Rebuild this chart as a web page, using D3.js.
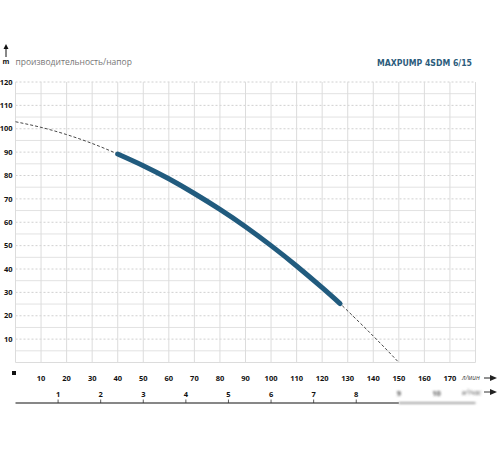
<!DOCTYPE html>
<html>
<head>
<meta charset="utf-8">
<script src="https://cdn.jsdelivr.net/npm/d3@7"></script>
<style>
  body { margin: 0; background: #fff; }
  svg { display: block; font-family: "Open Sans", "DejaVu Sans", sans-serif; }
</style>
</head>
<body>
<svg id="chart"></svg>
<script>
// pump curve: flow (l/min) and head (m)
const flow = [0, 10, 20, 30, 40, 50, 60, 70, 80, 90, 100, 110, 120, 127, 140, 150];
const head = [103, 100.6, 97.5, 93.7, 89.2, 84.2, 78.6, 72.3, 65.5, 58.1, 50, 41.3, 32, 25.2, 11.3, 0];
// working range drawn as the thick line
const workRange = [40, 127];

const flowTicks = [10, 20, 30, 40, 50, 60, 70, 80, 90, 100, 110, 120, 130, 140, 150, 160, 170];
const headTicks = [10, 20, 30, 40, 50, 60, 70, 80, 90, 100, 110, 120];
const cubicTicks = [1, 2, 3, 4, 5, 6, 7, 8, 9, 10];

const title = 'MAXPUMP 4SDM 6/15';
const yTitle = 'производительность/напор';

const width = 500;
const height = 450;
const marginTop = 82;
const marginLeft = 15.5;
const plotRight = 475.5;
const plotBottom = 362.5;

const svg = d3.select('#chart')
  .attr('width', width)
  .attr('height', height)
  .attr('viewBox', [0, 0, width, height]);

const defs = svg.append('defs');
defs.append('filter').attr('id', 'blur')
  .attr('x', '-20%').attr('y', '-50%').attr('width', '140%').attr('height', '200%')
  .append('feGaussianBlur').attr('stdDeviation', 1);

const x = d3.scaleLinear().domain([0, 180]).range([marginLeft, plotRight]);
const y = d3.scaleLinear().domain([0, 120]).range([plotBottom, marginTop]);
// second flow scale in m3/h on the same pixels
const xc = d3.scaleLinear().domain([0, 180 * 60 / 1000]).range([marginLeft, plotRight]);

// grid: light solid lines at half steps, dashed at labelled values
const grid = svg.append('g');
grid.selectAll('.hminor')
  .data(d3.range(5, 120, 10))
  .join('line')
  .attr('x1', x(0)).attr('x2', x(180))
  .attr('y1', d => y(d)).attr('y2', d => y(d))
  .attr('stroke', '#e2e2e2').attr('stroke-width', 1);
grid.selectAll('.hmajor')
  .data(headTicks)
  .join('line')
  .attr('x1', x(0)).attr('x2', x(180))
  .attr('y1', d => y(d)).attr('y2', d => y(d))
  .attr('stroke', '#c4c4c4').attr('stroke-width', 0.8)
  .attr('stroke-dasharray', '2,2');
grid.selectAll('.v')
  .data(flowTicks.concat([0, 180]))
  .join('line')
  .attr('x1', d => x(d)).attr('x2', d => x(d))
  .attr('y1', y(0)).attr('y2', y(120))
  .attr('stroke', '#dcdcdc').attr('stroke-width', 1);
grid.append('line')
  .attr('x1', x(0)).attr('x2', x(180))
  .attr('y1', y(0)).attr('y2', y(0))
  .attr('stroke', '#dcdcdc');

// y tick labels
svg.append('g')
  .selectAll('text')
  .data(headTicks)
  .join('text')
  .attr('x', 12.5)
  .attr('y', d => y(d))
  .attr('dy', '0.35em')
  .attr('text-anchor', 'end')
  .attr('font-size', 7.5)
  .attr('font-weight', 'bold')
  .attr('fill', '#111')
  .text(d => d);

// x tick labels (l/min)
svg.append('g')
  .selectAll('text')
  .data(flowTicks)
  .join('text')
  .attr('x', d => x(d))
  .attr('y', 378)
  .attr('dy', '0.35em')
  .attr('text-anchor', 'middle')
  .attr('font-size', 7.5)
  .attr('font-weight', 'bold')
  .attr('fill', '#111')
  .text(d => d);

svg.append('rect')
  .attr('x', 12).attr('y', 371)
  .attr('width', 4).attr('height', 4)
  .attr('fill', '#111');

// unit label with arrow, l/min
svg.append('text')
  .attr('x', 462).attr('y', 378).attr('dy', '0.35em')
  .attr('font-size', 6.5).attr('font-style', 'italic')
  .attr('fill', '#444')
  .text('л/мин');
svg.append('line')
  .attr('x1', 484).attr('x2', 491).attr('y1', 378).attr('y2', 378)
  .attr('stroke', '#222').attr('stroke-width', 1);
svg.append('path')
  .attr('d', 'M490,375L497,378L490,381Z')
  .attr('fill', '#222');

// second axis in m3/h
const cubic = svg.append('g');
cubic.append('line')
  .attr('x1', marginLeft).attr('x2', xc(9))
  .attr('y1', 403).attr('y2', 403)
  .attr('stroke', '#111').attr('stroke-width', 1.2);
const sharp = cubicTicks.filter(d => d < 9);
const blurred = cubicTicks.filter(d => d >= 9);
cubic.selectAll('.tick')
  .data(sharp)
  .join('line')
  .attr('x1', d => xc(d)).attr('x2', d => xc(d))
  .attr('y1', 399.5).attr('y2', 403)
  .attr('stroke', '#333').attr('stroke-width', 0.8);
cubic.selectAll('.lbl')
  .data(sharp)
  .join('text')
  .attr('x', d => xc(d))
  .attr('y', 394.5)
  .attr('dy', '0.35em')
  .attr('text-anchor', 'middle')
  .attr('font-size', 7.5)
  .attr('font-weight', 'bold')
  .attr('fill', '#111')
  .text(d => d);

// the blurred tail on the right of the second axis
const blurG = svg.append('g').attr('filter', 'url(#blur)');
blurG.append('line')
  .attr('x1', xc(9)).attr('x2', plotRight)
  .attr('y1', 403).attr('y2', 403)
  .attr('stroke', '#8a8a8a').attr('stroke-width', 1.6);
blurG.selectAll('.lbl')
  .data(blurred)
  .join('text')
  .attr('x', d => xc(d) - (d === 10 ? 5 : 0))
  .attr('y', 393.5)
  .attr('dy', '0.35em')
  .attr('text-anchor', 'middle')
  .attr('font-size', 7.5)
  .attr('font-weight', 'bold')
  .attr('fill', '#555')
  .text(d => d);
blurG.append('text')
  .attr('x', 462).attr('y', 392.5).attr('dy', '0.35em')
  .attr('font-size', 6.5).attr('font-style', 'italic')
  .attr('fill', '#555')
  .text('м³/час');
svg.append('line')
  .attr('x1', 484).attr('x2', 491).attr('y1', 392).attr('y2', 392)
  .attr('stroke', '#333').attr('stroke-width', 1);
svg.append('path')
  .attr('d', 'M490,389L497,392L490,395Z')
  .attr('fill', '#222');

// curves
const points = flow.map((q, i) => ({ q, h: head[i] }));
const line = d3.line()
  .x(d => x(d.q))
  .y(d => y(d.h))
  .curve(d3.curveNatural);

svg.append('path')
  .datum(points)
  .attr('fill', 'none')
  .attr('stroke', '#333')
  .attr('stroke-width', 0.9)
  .attr('stroke-dasharray', '3,2')
  .attr('d', line);

svg.append('path')
  .datum(points.filter(d => d.q >= workRange[0] && d.q <= workRange[1]))
  .attr('fill', 'none')
  .attr('stroke', '#215b7e')
  .attr('stroke-width', 5)
  .attr('stroke-linecap', 'round')
  .attr('d', line);

// header: unit arrow, axis title, model name
svg.append('line')
  .attr('x1', 6).attr('x2', 6).attr('y1', 57).attr('y2', 48)
  .attr('stroke', '#111').attr('stroke-width', 1);
svg.append('path')
  .attr('d', 'M3.5,49L6,44L8.5,49Z')
  .attr('fill', '#111');
svg.append('text')
  .attr('x', 6).attr('y', 62).attr('dy', '0.35em')
  .attr('text-anchor', 'middle')
  .attr('font-size', 7).attr('font-weight', 'bold')
  .attr('fill', '#111')
  .text('m');
svg.append('text')
  .attr('x', 15.5).attr('y', 62).attr('dy', '0.35em')
  .attr('font-size', 8.5)
  .attr('fill', '#777')
  .text(yTitle);

svg.append('text')
  .attr('x', 377).attr('y', 63).attr('dy', '0.35em')
  .attr('font-family', '"DejaVu Sans Condensed", "DejaVu Sans", sans-serif')
  .attr('font-size', 9.5).attr('font-weight', 'bold')
  .attr('fill', '#2c5c7c')
  .attr('textLength', 95)
  .attr('lengthAdjust', 'spacingAndGlyphs')
  .text(title);
</script>
</body>
</html>
